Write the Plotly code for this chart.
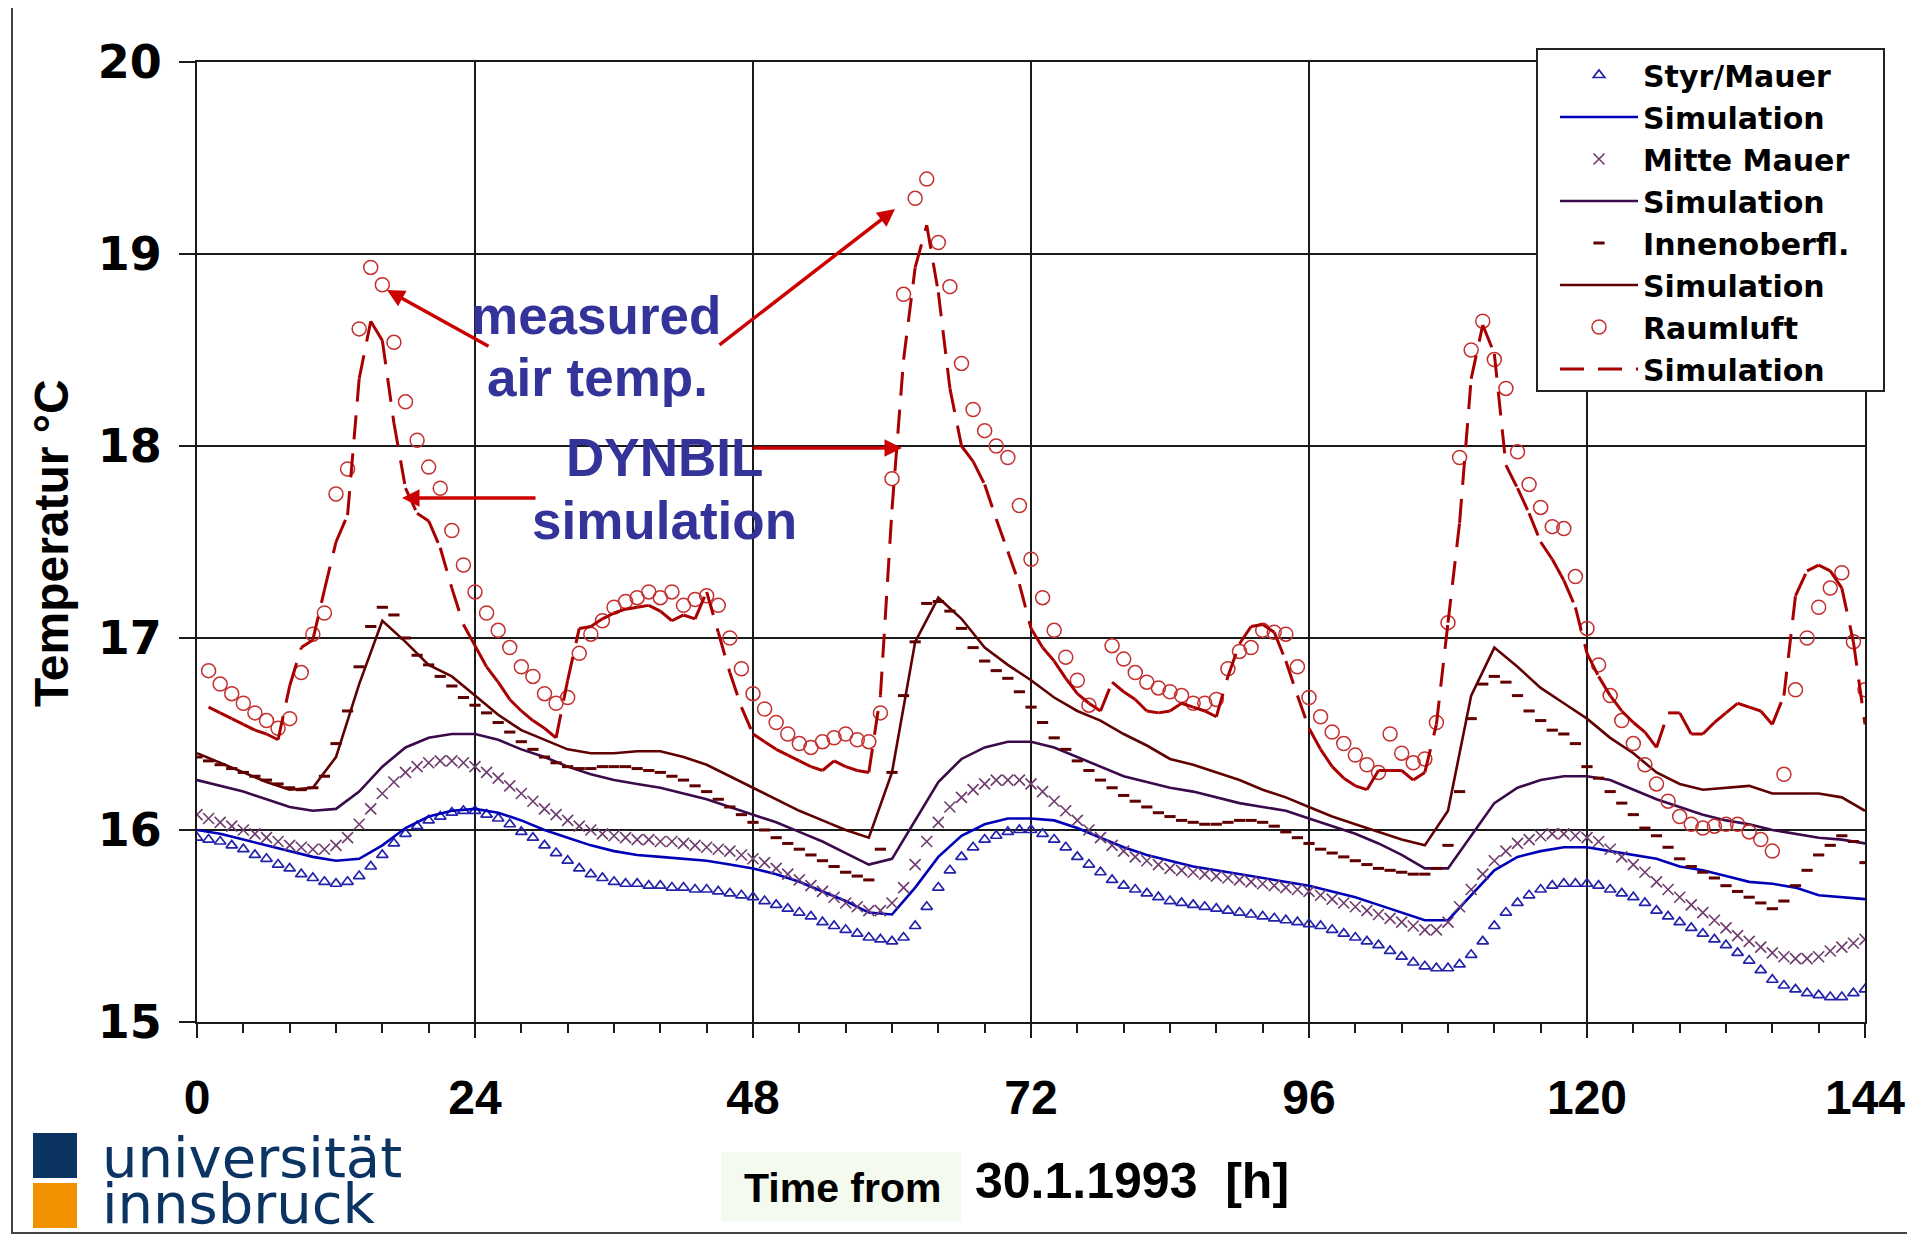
import plotly.graph_objects as go

# ---------------- data ----------------
hours = list(range(0, 145))          # measured wall temperatures, hourly
hours_sim = list(range(0, 145, 2))   # smooth simulation curves
hours_air = list(range(1, 145))      # air temperature (measured + simulated)

x_tick_vals = [0, 24, 48, 72, 96, 120, 144]
y_tick_vals = [15, 16, 17, 18, 19, 20]

styr_mauer = [
    15.96, 15.95, 15.94, 15.92, 15.90, 15.87, 15.85, 15.82, 15.80, 15.77, 15.75, 15.73, 15.72,
    15.73, 15.76, 15.81, 15.87, 15.93, 15.98, 16.02, 16.05, 16.07, 16.09, 16.10, 16.10,
    16.08, 16.06, 16.03, 15.99, 15.96, 15.92, 15.88, 15.84, 15.80, 15.77, 15.75, 15.73,
    15.72, 15.72, 15.71, 15.71, 15.70, 15.70, 15.69, 15.69, 15.68, 15.67, 15.66, 15.65,
    15.63, 15.61, 15.59, 15.57, 15.55, 15.52, 15.50, 15.48, 15.46, 15.44, 15.43, 15.42,
    15.44, 15.50, 15.60, 15.70, 15.79, 15.86, 15.91, 15.95, 15.97, 15.99, 16.00, 16.00,
    15.98, 15.95, 15.91, 15.86, 15.82, 15.78, 15.74, 15.71, 15.69, 15.67, 15.65, 15.63,
    15.62, 15.61, 15.60, 15.59, 15.58, 15.57, 15.56, 15.55, 15.54, 15.53, 15.52, 15.51,
    15.50, 15.48, 15.46, 15.44, 15.42, 15.40, 15.37, 15.34, 15.31, 15.29, 15.28, 15.28,
    15.30, 15.35, 15.42, 15.50, 15.57, 15.62, 15.66, 15.69, 15.71, 15.72, 15.72, 15.72,
    15.71, 15.69, 15.67, 15.65, 15.62, 15.58, 15.55, 15.52, 15.49, 15.46, 15.43, 15.40,
    15.36, 15.32, 15.27, 15.22, 15.19, 15.17, 15.15, 15.14, 15.13, 15.13, 15.15, 15.17,
]

styr_sim = [
    16.00, 15.98, 15.95, 15.92, 15.89, 15.86, 15.84, 15.85, 15.92, 16.01, 16.07, 16.10, 16.11,
    16.09, 16.05, 16.00, 15.96, 15.92, 15.89, 15.87, 15.86, 15.85, 15.84, 15.82, 15.80,
    15.77, 15.73, 15.68, 15.63, 15.57, 15.56, 15.70, 15.86, 15.97, 16.03, 16.06, 16.06,
    16.05, 16.01, 15.96, 15.91, 15.87, 15.84, 15.81, 15.79, 15.77, 15.75, 15.73, 15.71,
    15.68, 15.65, 15.61, 15.57, 15.53, 15.53, 15.66, 15.79, 15.86, 15.89, 15.91, 15.91,
    15.89, 15.87, 15.85, 15.81, 15.79, 15.76, 15.73, 15.72, 15.70, 15.66, 15.65, 15.64,
]

mitte_mauer = [
    16.08, 16.06, 16.04, 16.02, 16.00, 15.98, 15.96, 15.94, 15.92, 15.91, 15.90, 15.90, 15.92,
    15.96, 16.03, 16.11, 16.19, 16.25, 16.30, 16.33, 16.35, 16.36, 16.36, 16.35, 16.33,
    16.30, 16.27, 16.23, 16.19, 16.15, 16.11, 16.08, 16.05, 16.02, 16.00, 15.98, 15.97,
    15.96, 15.95, 15.95, 15.94, 15.94, 15.93, 15.92, 15.91, 15.90, 15.89, 15.87, 15.85,
    15.83, 15.80, 15.77, 15.74, 15.71, 15.68, 15.65, 15.62, 15.60, 15.58, 15.58, 15.62,
    15.70, 15.82, 15.94, 16.04, 16.12, 16.17, 16.21, 16.24, 16.26, 16.26, 16.26, 16.24,
    16.20, 16.15, 16.10, 16.05, 16.00, 15.96, 15.92, 15.89, 15.86, 15.84, 15.82, 15.80,
    15.79, 15.78, 15.77, 15.76, 15.75, 15.74, 15.73, 15.72, 15.71, 15.70, 15.69, 15.68,
    15.66, 15.64, 15.62, 15.60, 15.58, 15.56, 15.54, 15.52, 15.50, 15.48, 15.48, 15.52,
    15.60, 15.69, 15.77, 15.84, 15.89, 15.93, 15.95, 15.97, 15.98, 15.98, 15.97, 15.96,
    15.94, 15.90, 15.86, 15.82, 15.78, 15.73, 15.69, 15.65, 15.61, 15.57, 15.53, 15.49,
    15.45, 15.42, 15.39, 15.36, 15.34, 15.33, 15.33, 15.34, 15.37, 15.39, 15.41, 15.43,
]

mitte_sim = [
    16.26, 16.23, 16.20, 16.16, 16.12, 16.10, 16.11, 16.20, 16.33, 16.43, 16.48, 16.50, 16.50,
    16.47, 16.42, 16.38, 16.33, 16.29, 16.26, 16.24, 16.22, 16.19, 16.16, 16.12, 16.08,
    16.04, 15.99, 15.94, 15.88, 15.82, 15.85, 16.05, 16.25, 16.37, 16.43, 16.46, 16.46,
    16.43, 16.38, 16.33, 16.28, 16.25, 16.22, 16.20, 16.17, 16.14, 16.12, 16.10, 16.06,
    16.02, 15.98, 15.93, 15.87, 15.80, 15.80, 15.97, 16.14, 16.22, 16.26, 16.28, 16.28,
    16.26, 16.21, 16.16, 16.12, 16.08, 16.05, 16.03, 16.00, 15.98, 15.96, 15.95, 15.93,
]

innenoberfl = [
    16.38, 16.36, 16.34, 16.32, 16.30, 16.28, 16.26, 16.24, 16.22, 16.21, 16.22, 16.28, 16.45,
    16.62, 16.85, 17.06, 17.16, 17.12, 17.00, 16.91, 16.86, 16.80, 16.75, 16.69, 16.65,
    16.61, 16.56, 16.51, 16.46, 16.42, 16.38, 16.35, 16.33, 16.32, 16.32, 16.33, 16.33,
    16.33, 16.32, 16.31, 16.30, 16.28, 16.26, 16.23, 16.20, 16.16, 16.12, 16.08, 16.04,
    16.00, 15.96, 15.93, 15.90, 15.87, 15.84, 15.81, 15.78, 15.76, 15.74, 15.90, 16.30,
    16.70, 16.98, 17.18, 17.19, 17.14, 17.05, 16.95, 16.88, 16.83, 16.79, 16.72, 16.64,
    16.56, 16.48, 16.42, 16.36, 16.31, 16.26, 16.22, 16.18, 16.15, 16.12, 16.09, 16.07,
    16.05, 16.04, 16.03, 16.03, 16.04, 16.05, 16.05, 16.04, 16.02, 15.99, 15.96, 15.93,
    15.90, 15.88, 15.86, 15.84, 15.82, 15.80, 15.79, 15.78, 15.77, 15.77, 15.80, 15.92,
    16.20, 16.58, 16.76, 16.80, 16.77, 16.70, 16.62, 16.57, 16.52, 16.50, 16.45, 16.33,
    16.27, 16.20, 16.14, 16.08, 16.01, 15.97, 15.91, 15.85, 15.81, 15.78, 15.75, 15.71,
    15.68, 15.65, 15.62, 15.59, 15.63, 15.71, 15.79, 15.87, 15.92, 15.97, 15.94, 15.83,
]

innen_sim = [
    16.40, 16.35, 16.30, 16.25, 16.21, 16.22, 16.38, 16.76, 17.09, 16.98, 16.86, 16.80, 16.70,
    16.60, 16.52, 16.47, 16.42, 16.40, 16.40, 16.41, 16.41, 16.38, 16.34, 16.28, 16.22,
    16.16, 16.10, 16.05, 16.00, 15.96, 16.30, 16.98, 17.21, 17.10, 16.95, 16.86, 16.78,
    16.69, 16.62, 16.57, 16.50, 16.44, 16.37, 16.34, 16.30, 16.26, 16.21, 16.17, 16.12,
    16.07, 16.03, 15.99, 15.95, 15.92, 16.10, 16.70, 16.95, 16.85, 16.74, 16.66, 16.58,
    16.48, 16.40, 16.30, 16.24, 16.21, 16.22, 16.23, 16.19, 16.19, 16.19, 16.17, 16.10,
]

raumluft = [
    16.83, 16.76, 16.71, 16.66, 16.61, 16.57, 16.53, 16.58, 16.82, 17.02, 17.13, 17.75,
    17.88, 18.61, 18.93, 18.84, 18.54, 18.23, 18.03, 17.89, 17.78, 17.56, 17.38, 17.24,
    17.13, 17.04, 16.95, 16.85, 16.80, 16.71, 16.66, 16.69, 16.92, 17.02, 17.09, 17.16,
    17.19, 17.21, 17.24, 17.21, 17.24, 17.17, 17.20, 17.22, 17.17, 17.00, 16.84, 16.71,
    16.63, 16.56, 16.50, 16.45, 16.43, 16.46, 16.48, 16.50, 16.47, 16.46, 16.61, 17.83,
    18.79, 19.29, 19.39, 19.06, 18.83, 18.43, 18.19, 18.08, 18.00, 17.94, 17.69, 17.41,
    17.21, 17.04, 16.90, 16.78, 16.65, None, 16.96, 16.89, 16.82, 16.77, 16.74, 16.72,
    16.70, 16.66, 16.66, 16.68, 16.84, 16.93, 16.95, 17.04, 17.03, 17.02, 16.85, 16.69,
    16.59, 16.51, 16.45, 16.39, 16.34, 16.30, 16.50, 16.40, 16.35, 16.37, 16.56, 17.08,
    17.94, 18.50, 18.65, 18.45, 18.30, 17.97, 17.80, 17.68, 17.58, 17.57, 17.32, 17.05,
    16.86, 16.70, 16.57, 16.45, 16.34, 16.24, 16.15, 16.07, 16.03, 16.01, 16.02, 16.03,
    16.03, 15.99, 15.95, 15.89, 16.29, 16.73, 17.00, 17.16, 17.26, 17.34, 16.98, 16.73,
]

raumluft_sim = [
    16.64, 16.61, 16.58, 16.55, 16.52, 16.50, 16.47, 16.75, 16.95, 16.99, 17.25, 17.50,
    17.64, 18.35, 18.65, 18.55, 18.12, 17.78, 17.65, 17.61, 17.47, 17.26, 17.07, 16.96,
    16.85, 16.77, 16.68, 16.62, 16.57, 16.53, 16.48, 16.78, 17.05, 17.06, 17.10, 17.13,
    17.15, 17.16, 17.17, 17.14, 17.09, 17.12, 17.10, 17.24, 17.03, 16.82, 16.64, 16.50,
    16.46, 16.42, 16.39, 16.36, 16.33, 16.31, 16.36, 16.33, 16.31, 16.30, 16.70, 17.67,
    18.45, 18.93, 19.15, 18.80, 18.30, 18.00, 17.92, 17.80, 17.62, 17.45, 17.28, 17.05,
    16.95, 16.88, 16.79, 16.71, 16.66, 16.62, 16.77, 16.72, 16.68, 16.62, 16.61, 16.62,
    16.66, 16.64, 16.62, 16.59, 16.80, 16.97, 17.06, 17.07, 17.03, 16.88, 16.70, 16.53,
    16.42, 16.33, 16.27, 16.23, 16.21, 16.31, 16.31, 16.31, 16.26, 16.30, 16.55, 17.08,
    17.60, 18.35, 18.63, 18.48, 17.90, 17.78, 17.65, 17.50, 17.41, 17.30, 17.16, 16.92,
    16.80, 16.70, 16.62, 16.56, 16.51, 16.43, 16.61, 16.61, 16.50, 16.50, 16.56, 16.61,
    16.66, 16.64, 16.62, 16.55, 16.70, 17.22, 17.35, 17.38, 17.35, 17.26, 16.98, 16.55,
]

# ---------------- helpers ----------------
OFF = 8                               # default page body margin of the html
L, R, T, B = 197, 1865, 62, 1022      # plot area in screenshot pixels


def px_x(p):
    return (p - L) / (R - L)


def px_y(p):
    return (B - p) / (B - T)


def segments(xs, ys):
    """Split a line into separate hourly segments so the dash pattern restarts per segment."""
    sx, sy = [], []
    for i in range(len(xs) - 1):
        if ys[i] is None or ys[i + 1] is None:
            continue
        sx += [xs[i], xs[i + 1], None]
        sy += [ys[i], ys[i + 1], None]
    return sx, sy


BLUE_M = "#2222aa"
BLUE_S = "#0000b8"
PURP_M = "#6e3b6e"
PURP_S = "#3a0a4a"
BROWN = "#600000"
RED_M = "#c43030"
RED_S = "#a80000"

fig = go.Figure()

fig.add_trace(go.Scatter(x=hours, y=styr_mauer, mode="markers", name="Styr/Mauer",
                         marker=dict(symbol="triangle-up-open", size=10, color=BLUE_M,
                                     line=dict(width=1.7, color=BLUE_M))))
fig.add_trace(go.Scatter(x=hours_sim, y=styr_sim, mode="lines", name="Simulation",
                         line=dict(color=BLUE_S, width=2.6)))
fig.add_trace(go.Scatter(x=hours, y=mitte_mauer, mode="markers", name="Mitte Mauer",
                         marker=dict(symbol="x-thin-open", size=11, color=PURP_M,
                                     line=dict(width=1.6, color=PURP_M))))
fig.add_trace(go.Scatter(x=hours_sim, y=mitte_sim, mode="lines", name="Simulation",
                         line=dict(color=PURP_S, width=2.6)))
fig.add_trace(go.Scatter(x=hours, y=innenoberfl, mode="markers", name="Innenoberfl.",
                         marker=dict(symbol="line-ew-open", size=8, color=BROWN,
                                     line=dict(width=3, color=BROWN))))
fig.add_trace(go.Scatter(x=hours_sim, y=innen_sim, mode="lines", name="Simulation",
                         line=dict(color=BROWN, width=2.6)))
fig.add_trace(go.Scatter(x=hours_air, y=raumluft, mode="markers", name="Raumluft",
                         marker=dict(symbol="circle-open", size=14, color=RED_M,
                                     line=dict(width=1.5, color=RED_M))))
seg_x, seg_y = segments(hours_air, raumluft_sim)
fig.add_trace(go.Scatter(x=seg_x, y=seg_y, mode="lines", name="Simulation",
                         connectgaps=False,
                         line=dict(color=RED_S, width=3, dash="24px,14px")))

BOLD = "Liberation Sans, Arial, sans-serif"

shapes = [
    # outer frame
    dict(type="rect", xref="paper", yref="paper", x0=px_x(12), x1=px_x(1911),
         y0=px_y(1233), y1=px_y(5), line=dict(color="#444444", width=2), layer="below"),
    # legend frame (legend itself is drawn borderless inside it)
    dict(type="rect", xref="paper", yref="paper", x0=px_x(1537), x1=px_x(1884),
         y0=px_y(391), y1=px_y(49), fillcolor="white", line=dict(color="#222222", width=2),
         layer="above"),
    # logo squares
    dict(type="rect", xref="paper", yref="paper", x0=px_x(33), x1=px_x(77),
         y0=px_y(1178), y1=px_y(1133), fillcolor="#0b3463", line=dict(width=0)),
    dict(type="rect", xref="paper", yref="paper", x0=px_x(33), x1=px_x(77),
         y0=px_y(1228), y1=px_y(1183), fillcolor="#f39200", line=dict(width=0)),
    # light background behind "Time from"
    dict(type="rect", xref="paper", yref="paper", x0=px_x(721), x1=px_x(961),
         y0=px_y(1221), y1=px_y(1152), fillcolor="#f4faee", line=dict(width=0), layer="below"),
]

annos = [
    dict(text="Temperatur °C", xref="paper", yref="paper", x=px_x(51), y=px_y(543),
         textangle=-90, showarrow=False, xanchor="center", yanchor="middle",
         font=dict(family=BOLD, size=48, color="black", weight="bold")),
    dict(text="Time from", xref="paper", yref="paper", x=px_x(842), y=px_y(1188),
         showarrow=False, xanchor="center", yanchor="middle",
         font=dict(family=BOLD, size=41, color="black", weight="bold")),
    dict(text="30.1.1993&nbsp;&nbsp;[h]", xref="paper", yref="paper", x=px_x(1132), y=px_y(1181),
         showarrow=False, xanchor="center", yanchor="middle",
         font=dict(family=BOLD, size=50, color="black", weight="bold")),
    dict(text="universität", xref="paper", yref="paper", x=px_x(100), y=px_y(1157),
         showarrow=False, xanchor="left", yanchor="middle",
         font=dict(family="DejaVu Sans, sans-serif", size=56, color="#0b3463")),
    dict(text="innsbruck", xref="paper", yref="paper", x=px_x(100), y=px_y(1203),
         showarrow=False, xanchor="left", yanchor="middle",
         font=dict(family="DejaVu Sans, sans-serif", size=56, color="#0b3463")),
]

ANN_BLUE = "#333399"
for txt, cx, cy in [("measured", 596, 316), ("air temp.", 597, 377),
                    ("DYNBIL", 664, 457), ("simulation", 664, 520)]:
    annos.append(dict(text=txt, xref="paper", yref="paper", x=px_x(cx), y=px_y(cy),
                      showarrow=False, xanchor="center", yanchor="middle",
                      font=dict(family=BOLD, size=53, color=ANN_BLUE, weight="bold")))


# red arrows (head position, tail position) in screenshot pixels -> data coords
def to_data(px, py):
    return (px - L) / (R - L) * 144, 20 - (py - T) / (B - T) * 5


for (hx, hy), (tx, ty) in [((387, 290), (490, 347)), ((895, 209), (718, 346)),
                           ((402, 498), (537, 498)), ((902, 448), (752, 448))]:
    x1, y1 = to_data(hx, hy)
    x0, y0 = to_data(tx, ty)
    annos.append(dict(text="", x=x1, y=y1, xref="x", yref="y", ax=x0, ay=y0,
                      axref="x", ayref="y", showarrow=True, arrowhead=2, arrowsize=1.0,
                      arrowwidth=3.5, arrowcolor="#cc0000", standoff=0, startstandoff=0))

GRID = "#1a1a1a"
fig.update_layout(
    width=1915, height=1236,
    margin=dict(l=L - OFF, r=1915 - R + OFF, t=T - OFF, b=1236 - B + OFF, pad=0),
    paper_bgcolor="white", plot_bgcolor="white",
    showlegend=True,
    legend=dict(x=px_x(1555), y=px_y(49), xanchor="left", yanchor="top",
                bgcolor="rgba(0,0,0,0)", borderwidth=0,
                font=dict(family="DejaVu Sans, sans-serif", size=30, color="black", weight="bold"),
                itemwidth=78, traceorder="normal", tracegroupgap=0),
    xaxis=dict(range=[0, 144], tickmode="array", tickvals=x_tick_vals,
               ticktext=[str(v) for v in x_tick_vals],
               showgrid=True, gridcolor=GRID, gridwidth=1.6,
               showline=True, linecolor=GRID, linewidth=2, mirror=True,
               ticks="outside", ticklen=14, tickwidth=2, tickcolor=GRID,
               minor=dict(tickmode="linear", tick0=0, dtick=4, ticks="outside", ticklen=9,
                          tickwidth=1.5, tickcolor=GRID, showgrid=False),
               tickfont=dict(family=BOLD, size=48, color="black", weight="bold"),
               ticklabelstandoff=18, zeroline=False),
    yaxis=dict(range=[15, 20], tickmode="array", tickvals=y_tick_vals,
               ticktext=[str(v) for v in y_tick_vals],
               showgrid=True, gridcolor=GRID, gridwidth=1.6,
               showline=True, linecolor=GRID, linewidth=2, mirror=True,
               ticks="outside", ticklen=16, tickwidth=2, tickcolor=GRID,
               tickfont=dict(family="DejaVu Sans, sans-serif", size=46, color="black", weight="bold"),
               ticklabelstandoff=8, zeroline=False),
    shapes=shapes,
    annotations=annos,
)

fig.write_html("out.html")
